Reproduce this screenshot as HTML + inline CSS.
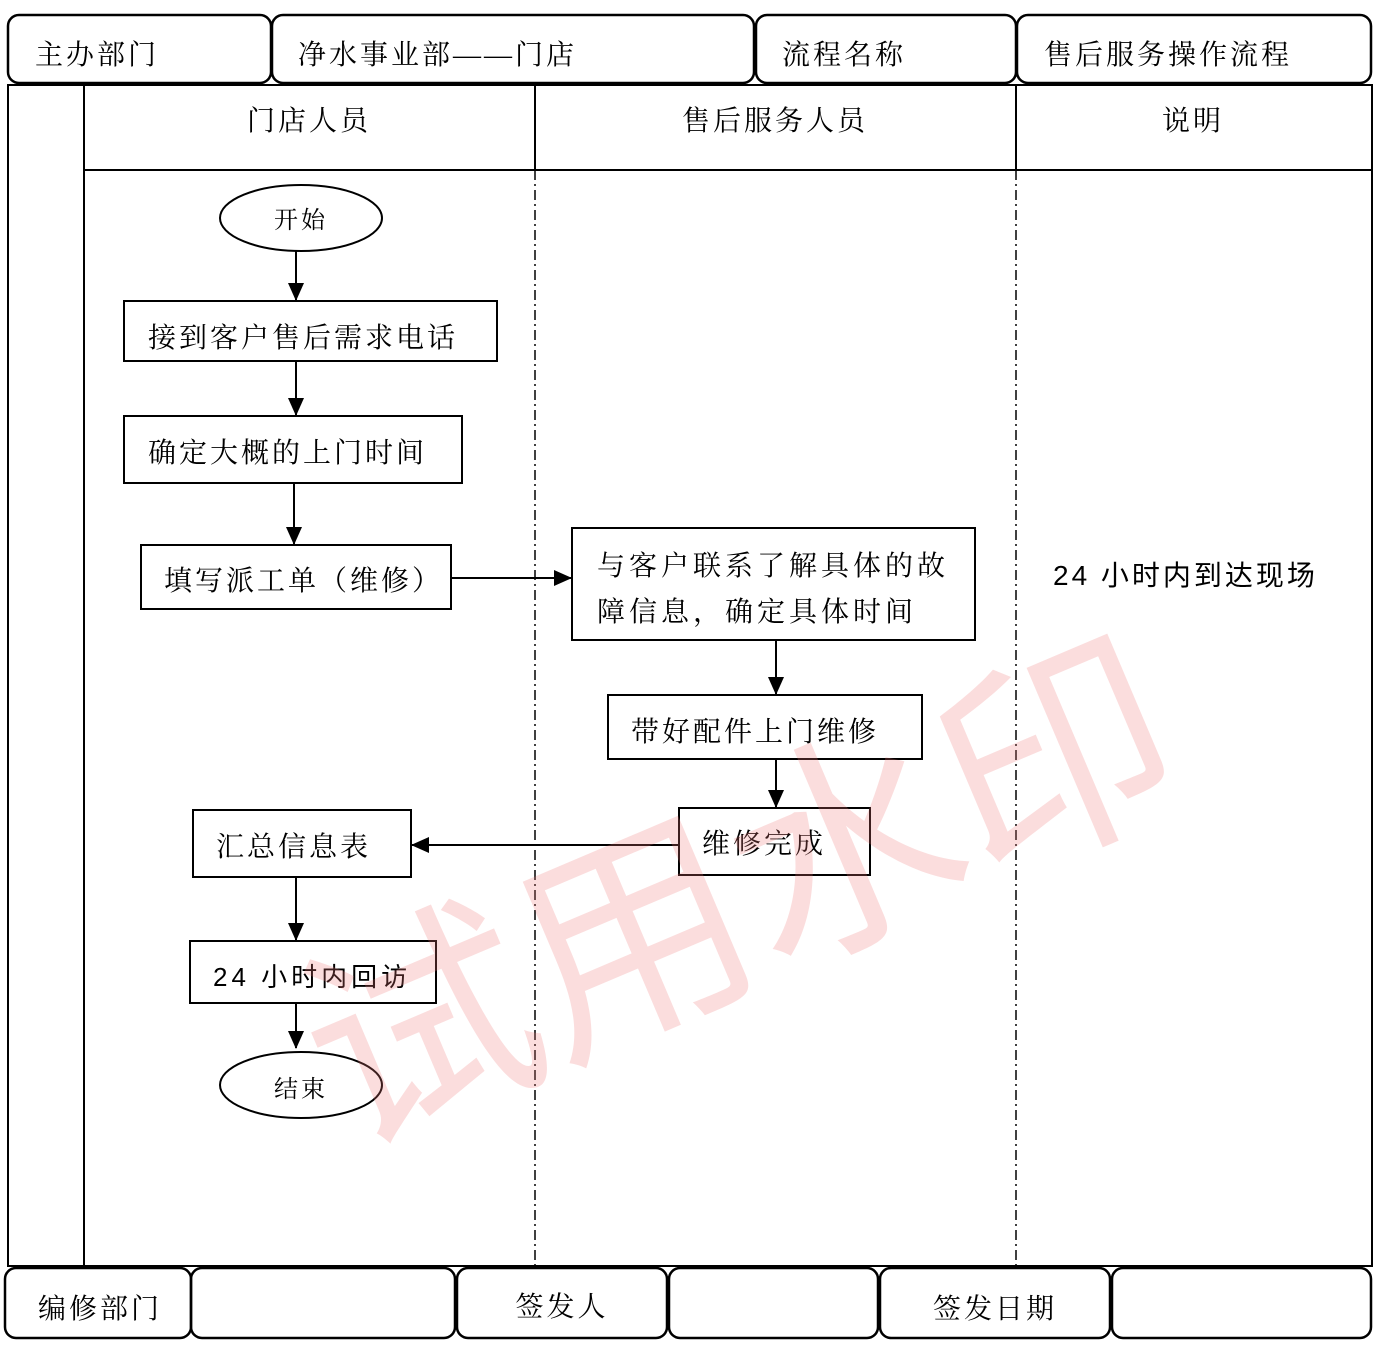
<!DOCTYPE html>
<html><head><meta charset="utf-8"><style>
html,body{margin:0;padding:0;background:#fff;}
svg{display:block;}
text{font-family:"Liberation Serif","Noto Serif CJK SC","Noto Sans CJK SC",serif;fill:#000;letter-spacing:3px;}
.s{font-family:"Liberation Sans","Noto Sans CJK SC",sans-serif;}
</style></head><body>
<svg width="1386" height="1350" viewBox="0 0 1386 1350" xmlns="http://www.w3.org/2000/svg">
<defs>
<marker id="b" markerWidth="18" markerHeight="16" refX="17" refY="8" orient="auto" markerUnits="userSpaceOnUse"><path d="M0,0 L18,8 L0,16 z" fill="#000"/></marker></defs>
<g fill="none" stroke="#000" stroke-width="2.5">
<rect x="8" y="15" width="263" height="68" rx="11"/>
<rect x="272" y="15" width="482" height="68" rx="11"/>
<rect x="756" y="15" width="260" height="68" rx="11"/>
<rect x="1017" y="15" width="354" height="68" rx="11"/>
<rect x="8" y="85" width="1364" height="1181" stroke-width="2"/>
<line x1="84" y1="85" x2="84" y2="1266" stroke-width="2"/>
<line x1="84" y1="170" x2="1372" y2="170" stroke-width="2"/>
<line x1="535" y1="85" x2="535" y2="170" stroke-width="2"/>
<line x1="1016" y1="85" x2="1016" y2="170" stroke-width="2"/>
<line x1="535" y1="170" x2="535" y2="1266" stroke-width="1.5" stroke-dasharray="10,4,2,4"/>
<line x1="1016" y1="170" x2="1016" y2="1266" stroke-width="1.5" stroke-dasharray="10,4,2,4"/>
<rect x="5" y="1268" width="186" height="70" rx="11"/>
<rect x="191" y="1268" width="264" height="70" rx="11"/>
<rect x="457" y="1268" width="210" height="70" rx="11"/>
<rect x="669" y="1268" width="209" height="70" rx="11"/>
<rect x="880" y="1268" width="230" height="70" rx="11"/>
<rect x="1112" y="1268" width="259" height="70" rx="11"/>
</g>
<g fill="#fff" stroke="#000" stroke-width="2">
<ellipse cx="301" cy="218" rx="81" ry="33"/>
<rect x="124" y="301" width="373" height="60"/>
<rect x="124" y="416" width="338" height="67"/>
<rect x="141" y="545" width="310" height="64"/>
<rect x="572" y="528" width="403" height="112"/>
<rect x="608" y="695" width="314" height="64"/>
<rect x="679" y="808" width="191" height="67"/>
<rect x="193" y="810" width="218" height="67"/>
<rect x="190" y="941" width="246" height="62"/>
<ellipse cx="301" cy="1085" rx="81" ry="33"/>
</g>
<g stroke="#000" stroke-width="2" fill="none">
<line x1="296" y1="251" x2="296" y2="300" marker-end="url(#b)"/>
<line x1="296" y1="361" x2="296" y2="415" marker-end="url(#b)"/>
<line x1="294" y1="483" x2="294" y2="544" marker-end="url(#b)"/>
<line x1="451" y1="578" x2="571" y2="578" marker-end="url(#b)"/>
<line x1="776" y1="640" x2="776" y2="694" marker-end="url(#b)"/>
<line x1="776" y1="759" x2="776" y2="807" marker-end="url(#b)"/>
<line x1="679" y1="845" x2="412" y2="845" marker-end="url(#b)"/>
<line x1="296" y1="877" x2="296" y2="940" marker-end="url(#b)"/>
<line x1="296" y1="1003" x2="296" y2="1048" marker-end="url(#b)"/>
</g>
<g font-size="28">
<text x="35" y="64">主办部门</text>
<text x="298" y="64">净水事业部——门店</text>
<text x="782" y="64">流程名称</text>
<text x="1044" y="64">售后服务操作流程</text>
<text x="309" y="130" text-anchor="middle">门店人员</text>
<text x="775" y="130" text-anchor="middle">售后服务人员</text>
<text x="1193" y="130" text-anchor="middle">说明</text>
<text x="38" y="1318">编修部门</text>
<text x="562" y="1316" text-anchor="middle">签发人</text>
<text x="995" y="1318" text-anchor="middle">签发日期</text>
<text x="301" y="228" text-anchor="middle" font-size="24">开始</text>
<text x="148" y="347">接到客户售后需求电话</text>
<text x="148" y="462">确定大概的上门时间</text>
<text x="164" y="590">填写派工单（维修）</text>
<text x="597" y="575" style="letter-spacing:4px">与客户联系了解具体的故</text>
<text x="597" y="621" style="letter-spacing:4px">障信息，确定具体时间</text>
<text x="631" y="741">带好配件上门维修</text>
<text x="702" y="853">维修完成</text>
<text x="216" y="856">汇总信息表</text>
<text class="s" x="213" y="986" font-size="26" style="letter-spacing:4px">24 小时内回访</text>
<text x="301" y="1097" text-anchor="middle" font-size="24">结束</text>
<text class="s" x="1053" y="585" font-size="28">24 小时内到达现场</text>
</g>
<text class="s" x="740" y="975" font-size="230" text-anchor="middle" transform="rotate(-23 740 895)" style="fill:rgba(240,120,120,0.25);letter-spacing:0">试用水印</text>
</svg>
</body></html>
